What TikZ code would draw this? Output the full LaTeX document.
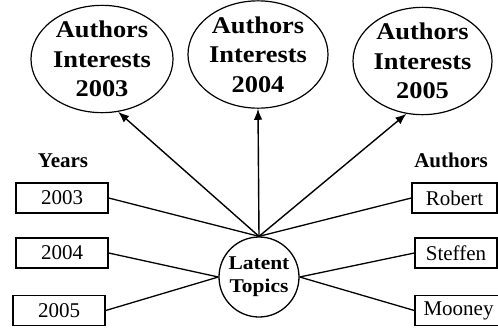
\documentclass[tikz,border=0pt]{standalone}
\usepackage{fontspec}
\setmainfont{Liberation Serif}
\newfontfamily\widebold{Liberation Serif}[FakeStretch=1.1]
\usetikzlibrary{shapes.geometric,arrows.meta}
\tikzset{
  interest/.style={draw, line width=1.2pt, ellipse, inner sep=0pt, align=center,
    font=\widebold\bfseries\fontsize{24}{29.5}\selectfont},
  topic/.style={draw, line width=1.3pt, circle, minimum size=80pt, inner sep=0pt, align=center,
    font=\widebold\bfseries\fontsize{19.5}{23}\selectfont},
  itembox/.style={draw, line width=1.4pt, rectangle, inner sep=0pt, minimum height=30pt,
    font=\fontsize{21}{24}\selectfont},
  heading/.style={font=\bfseries\fontsize{21}{24}\selectfont, inner sep=0pt, anchor=base},
  link/.style={line width=1.3pt},
  pointer/.style={line width=1.4pt, -{Latex[length=11pt,width=8.5pt]}}
}
\begin{document}
\begin{tikzpicture}[x=1pt,y=-1pt]
  \useasboundingbox (0,0) rectangle (498,327);

  % interest ellipses
  \node[interest, minimum width=142pt, minimum height=102pt] (ai3) at (102,59) {Authors\\Interests\\2003};
  \node[interest, minimum width=140pt, minimum height=105pt] (ai4) at (258,54.5) {Authors\\Interests\\2004};
  \node[interest, minimum width=139pt, minimum height=102pt] (ai5) at (422.5,61) {Authors\\Interests\\2005};

  % central node
  \node[topic] (lt) at (259,277) {Latent\\Topics};

  % column headings
  \node[heading] (yh) at (63,167) {Years};
  \node[heading] (ah) at (451,167) {Authors};

  % year boxes
  \node[itembox, minimum width=92pt] (y3) at (62,198) {2003};
  \node[itembox, minimum width=92pt] (y4) at (62,253) {2004};
  \node[itembox, minimum width=92pt] (y5) at (59,310.5) {2005};

  % author boxes
  \node[itembox, minimum width=85pt] (r) at (454.5,198) {Robert};
  \node[itembox, minimum width=82pt] (s) at (456,253) {Steffen};
  \node[itembox, minimum width=87pt] (m) at (458.5,310.5) {Mooney};

  % connectors
  \draw[link] (y3.east) -- (lt.north);
  \draw[link] (y4.east) -- (lt.west);
  \draw[link] (y5.east) -- (lt.west);
  \draw[link] (r.west) -- (lt.north);
  \draw[link] (s.west) -- (lt.east);
  \draw[link] (m.west) -- (lt.east);

  \draw[pointer] (lt.north) -- (ai3.-73);
  \draw[pointer] (lt.north) -- (ai4.south);
  \draw[pointer] (lt.north) -- (ai5.-107);
\end{tikzpicture}
\end{document}
